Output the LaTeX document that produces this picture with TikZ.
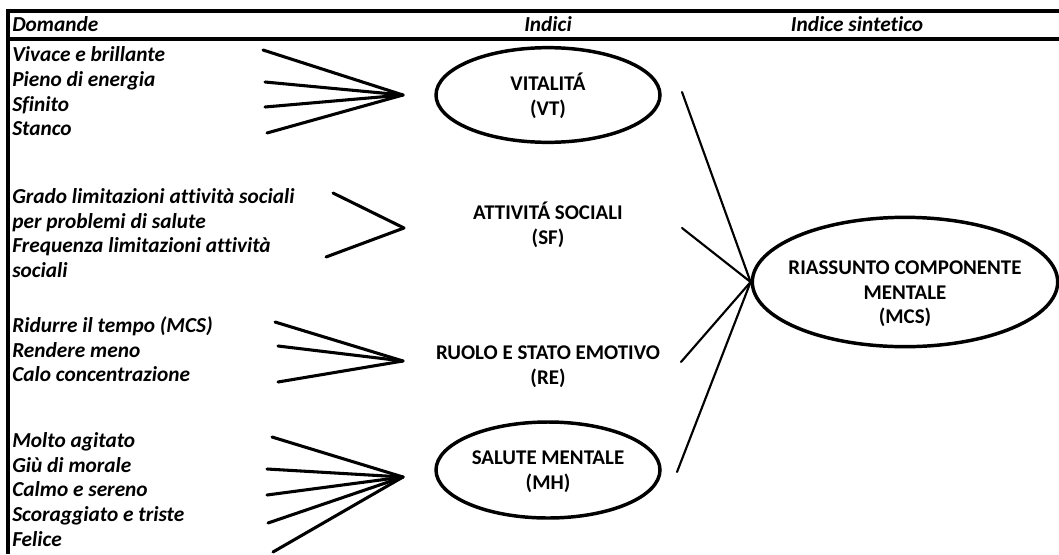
\documentclass[tikz,border=0pt]{standalone}
\usepackage{fontspec}
\setmainfont[Ligatures=NoCommon]{Carlito}
\usetikzlibrary{shapes.geometric}
\begin{document}
\begin{tikzpicture}[x=0.75pt,y=-0.75pt,
  q/.style={anchor=base west,inner sep=0pt,font=\fontsize{16}{19}\selectfont\bfseries\itshape},
  hd/.style={anchor=base,inner sep=0pt,font=\fontsize{16}{19}\selectfont\bfseries\itshape},
  idx/.style={align=center,inner sep=0pt,font=\fontsize{15.7}{18.5}\selectfont\bfseries},
  oval/.style={ellipse,draw,line width=2.6pt,inner sep=0pt},
  feed/.style={line width=2.3pt,line cap=round},
  link/.style={line width=1.6pt,line cap=round},
  rule/.style={line width=3pt}]
\useasboundingbox (0,0) rectangle (1059,554);
% frame
\coordinate (tl) at (8,11);
\coordinate (tr) at (1059,11);
\coordinate (bl) at (8,554);
\coordinate (hl) at (8,39);
\coordinate (hr) at (1059,39);
\draw[rule] (tr) -- (tl) -- (bl);
\draw[rule] (hl) -- (hr);
% headers
\node[q] (hD) at (12,31) {Domande};
\node[hd] (hI) at (548,31) {Indici};
\node[hd] (hS) at (857,31) {Indice sintetico};
% questions
\node[q] (q1) at (12,61) {Vivace e brillante};
\node[q] (q2) at (12,86) {Pieno di energia};
\node[q] (q3) at (12,111) {Sfinito};
\node[q] (q4) at (12,135) {Stanco};
\node[q] (q5) at (12,203) {Grado limitazioni attività sociali};
\node[q] (q6) at (12,228) {per problemi di salute};
\node[q] (q7) at (12,252) {Frequenza limitazioni attività};
\node[q] (q8) at (12,277) {sociali};
\node[q] (q9) at (12,332) {Ridurre il tempo (MCS)};
\node[q] (q10) at (12,357) {Rendere meno};
\node[q] (q11) at (12,381) {Calo concentrazione};
\node[q] (q12) at (12,447) {Molto agitato};
\node[q] (q13) at (12,472) {Giù di morale};
\node[q] (q14) at (12,496) {Calmo e sereno};
\node[q] (q15) at (12,521) {Scoraggiato e triste};
\node[q] (q16) at (12,546) {Felice};
% indices
\node[oval,minimum width=168pt,minimum height=71pt] (vt) at (548,95) {};
\node[idx] (vtt) at (548,96) {VITALITÁ\\(VT)};
\node[idx] (sf) at (548,225) {ATTIVITÁ SOCIALI\\(SF)};
\node[idx] (re) at (548,367) {RUOLO E STATO EMOTIVO\\(RE)};
\node[oval,minimum width=168pt,minimum height=72pt] (mh) at (548,470) {};
\node[idx] (mht) at (548,472) {SALUTE MENTALE\\(MH)};
\node[oval,minimum width=229pt,minimum height=97pt] (mcs) at (905,282) {};
\node[idx] (mcst) at (905,294) {RIASSUNTO COMPONENTE\\MENTALE\\(MCS)};
% feed connector ends
\coordinate (a1) at (263,50);
\coordinate (a2) at (265,82);
\coordinate (a3) at (265,107);
\coordinate (a4) at (267,133);
\coordinate (ca) at (403,95);
\coordinate (b1) at (333,193);
\coordinate (b2) at (326,257);
\coordinate (cb) at (404,228);
\coordinate (c1) at (275,322);
\coordinate (c2) at (278,346);
\coordinate (c3) at (278,382);
\coordinate (cc) at (403,361);
\coordinate (d1) at (272,437);
\coordinate (d2) at (267,469);
\coordinate (d3) at (267,495);
\coordinate (d4) at (268,523);
\coordinate (d5) at (273,552);
\coordinate (cd) at (403,477);
\foreach \p in {a1,a2,a3,a4} \draw[feed] (\p) -- (ca);
\foreach \p in {b1,b2} \draw[feed] (\p) -- (cb);
\foreach \p in {c1,c2,c3} \draw[feed] (\p) -- (cc);
\foreach \p in {d1,d2,d3,d4,d5} \draw[feed] (\p) -- (cd);
% links to MCS
\coordinate (l1) at (682,92);
\coordinate (l2) at (682,228);
\coordinate (l3) at (681,362);
\coordinate (l4) at (677,472);
\foreach \p in {l1,l2,l3,l4} \draw[link] (\p) -- (mcs.west);
\end{tikzpicture}
\end{document}
